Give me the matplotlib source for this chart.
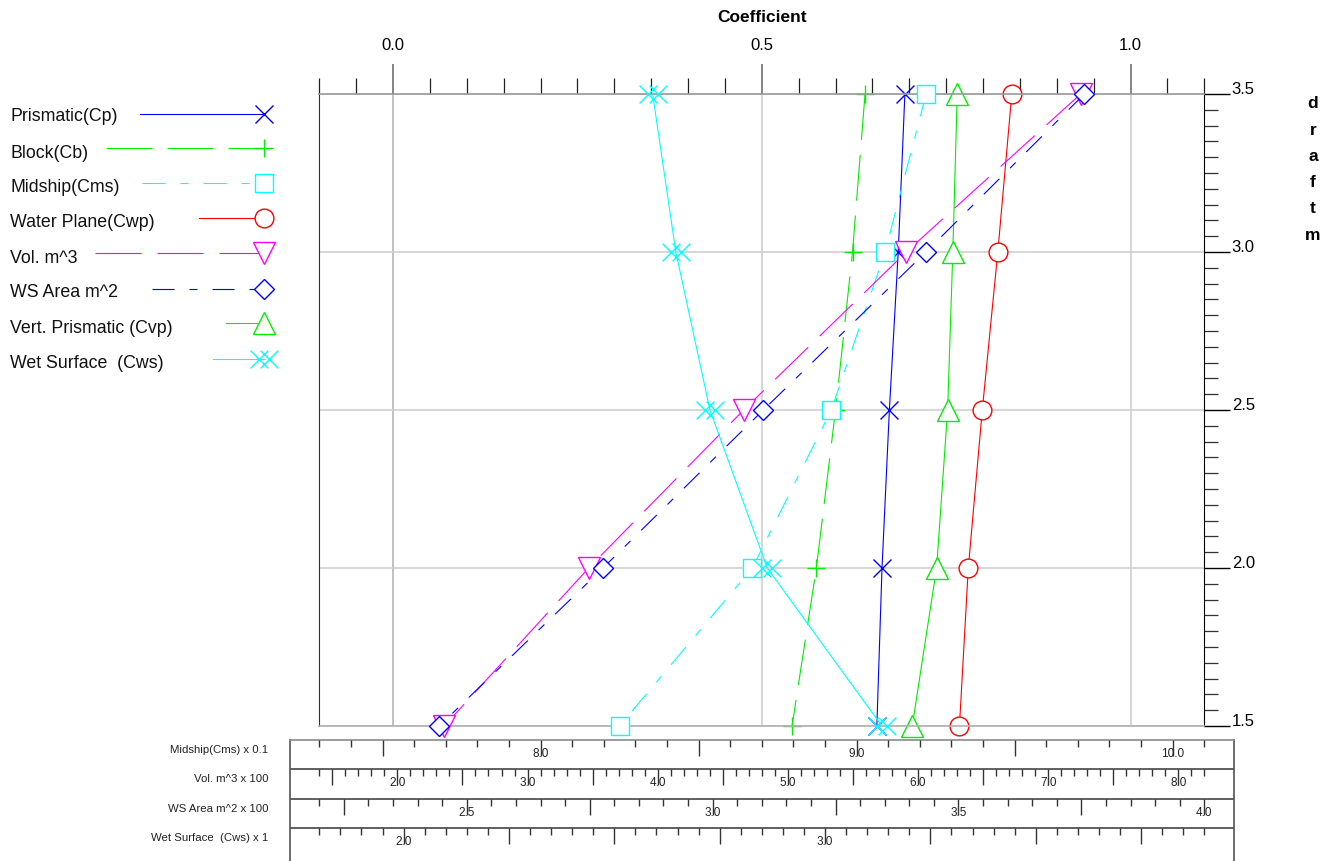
import numpy as np
import matplotlib
matplotlib.use('Agg')
import matplotlib.pyplot as plt
from matplotlib.path import Path
from matplotlib.ticker import MultipleLocator, FuncFormatter

plt.rcParams['font.family'] = ['Liberation Sans', 'DejaVu Sans']

# ---------------- data ----------------
draft = [3.5, 3.0, 2.5, 2.0, 1.5]
cp = [0.694, 0.685, 0.673, 0.663, 0.656]          # Prismatic
cb = [0.640, 0.623, 0.600, 0.574, 0.541]          # Block
cms = [0.922, 0.909, 0.892, 0.867, 0.825]         # Midship (own scale)
cwp = [0.839, 0.820, 0.799, 0.780, 0.768]         # Water plane
vol = [725, 591, 466, 347, 236]                   # Vol. m^3 (own scale)
ws_area = [375.6, 343.4, 310.3, 277.7, 244.4]     # WS Area m^2 (own scale)
cvp = [0.765, 0.759, 0.752, 0.737, 0.704]         # Vert. prismatic
cws = [2.591, 2.646, 2.727, 2.863, 3.135]         # Wet surface (own scale)

coef_ticks = [0.0, 0.5, 1.0]
draft_ticks = [1.5, 2.0, 2.5, 3.0, 3.5]

# ---------------- layout helpers ----------------
W, H = 1337, 861
def fx(p):
    return p / W
def fy(p):
    return 1 - p / H

PX = 0.72  # points per pixel at dpi 100

fig = plt.figure(figsize=(W / 100, H / 100), dpi=100)

L, R, T, B = 319.3, 1204.3, 94, 726
ax = fig.add_axes([fx(L), fy(B), (R - L) / W, (B - T) / H])
ax.set_xlim(-0.1, 1.1)
ax.set_ylim(1.5, 3.5)
ax.set_axisbelow(True)

# twin axes with own scales
def twin(lo, hi):
    t = ax.twiny()
    t.set_xlim(lo, hi)
    t.set_ylim(1.5, 3.5)
    t.axis('off')
    return t

ax_cms = twin(0.73, 1.01)
ax_vol = twin(140, 820)
ax_ws = twin(220, 400)
ax_cws = twin(1.8, 3.9)

ax.xaxis.tick_top()
ax.xaxis.set_label_position('top')
ax.set_xticks(coef_ticks)
ax.set_xticklabels([f'{v:.1f}' for v in coef_ticks])
ax.xaxis.set_minor_locator(MultipleLocator(0.05))
ax.tick_params(axis='x', which='major', direction='out', length=30 * PX, width=1.2,
               color='#707070', pad=11 * PX, labelsize=12)
ax.tick_params(axis='x', which='minor', direction='out', length=16 * PX, width=0.9,
               color='#202020')

ax.yaxis.tick_right()
ax.set_yticks(draft_ticks)
ax.set_yticklabels([f'{v:.1f}' for v in draft_ticks])
ax.yaxis.set_minor_locator(MultipleLocator(0.05))
ax.tick_params(axis='y', which='major', direction='out', length=26 * PX, width=1.0,
               color='black', pad=1, labelsize=12)
ax.tick_params(axis='y', which='minor', direction='out', length=14 * PX, width=0.9,
               color='#303030')
for lab in ax.get_yticklabels():
    lab.set_va('baseline')

ax.grid(True, which='major', color='#cfcfcf', linewidth=1.2)
ax.axvline(0.0, color='#707070', linewidth=1.2, zorder=0.5)

ax.spines['top'].set_color('#9a9a9a')
ax.spines['top'].set_linewidth(1.2)
ax.spines['bottom'].set_color('#b0b0b0')
ax.spines['bottom'].set_linewidth(1.2)
ax.spines['left'].set_color('#303030')
ax.spines['right'].set_color('black')

LW = 0.8
def dash(*px):
    return (0, tuple(p * PX / LW for p in px))

xx = Path([(-0.78, -0.5), (0.22, 0.5), (-0.78, 0.5), (0.22, -0.5),
           (-0.22, -0.5), (0.78, 0.5), (-0.22, 0.5), (0.78, -0.5)],
          [Path.MOVETO, Path.LINETO] * 4)

BLUE, GREEN, CYAN, RED, MAG = '#0000ff', '#00ee00', '#00ffff', '#ff0000', '#ff00ff'

series = [
    # name, axes, values, color, linestyle, marker, markersize
    ('Prismatic(Cp)', ax, cp, BLUE, '-', 'x', 12.5),
    ('Block(Cb)', ax, cb, GREEN, dash(46, 15), '+', 12.7),
    ('Midship(Cms)', ax_cms, cms, CYAN, dash(23, 15, 8, 15), 's', 13.0),
    ('Water Plane(Cwp)', ax, cwp, RED, '-', 'o', 13.5),
    ('Vol. m^3', ax_vol, vol, MAG, dash(46, 16), 'v', 15.5),
    ('WS Area m^2', ax_ws, ws_area, BLUE, dash(22, 15, 8, 15), 'D', 9.7),
    ('Vert. Prismatic (Cvp)', ax, cvp, GREEN, '-', '^', 15.5),
    ('Wet Surface  (Cws)', ax_cws, cws, CYAN, '-', xx, 20.0),
]

for name, a, vals, col, ls, mk, ms in series:
    a.plot(vals, draft, color=col, linestyle=ls, linewidth=LW, marker=mk,
           markersize=ms, markeredgecolor=col, markerfacecolor='white',
           markeredgewidth=1.0, clip_on=False)

# ---------------- legend (drawn manually) ----------------
lg = fig.add_axes([0, fy(385), fx(300), (385 - 90) / H])
lg.set_xlim(0, 300)
lg.set_ylim(385, 90)
lg.axis('off')
text_y = [116.7, 153.3, 187.7, 222.3, 258.3, 292.3, 328.3, 363.3]
line_y = [114, 148.3, 183.3, 217.7, 253.3, 289.3, 323.3, 359.3]
line_x0 = [140, 106, 142, 199, 95, 152, 226, 213]
mark_x = 264.3
for (name, a, vals, col, ls, mk, ms), ty, ly, x0 in zip(series, text_y, line_y, line_x0):
    lg.text(10, ty, name, fontsize=12.8, va='center', ha='left', color='#111111')
    lg.plot([x0, mark_x], [ly, ly], color=col, linestyle=ls, linewidth=LW)
    lg.plot([mark_x], [ly], color=col, linestyle='none', marker=mk, markersize=ms,
            markeredgecolor=col, markerfacecolor='white', markeredgewidth=1.0,
            clip_on=False)

# ---------------- titles ----------------
fig.text(fx(762), fy(17), 'Coefficient', fontsize=12.5, fontweight='bold',
         ha='center', va='center')
for i, ch in enumerate('draftm'):
    fig.text(fx(1313), fy(104 + i * 26.2), ch, fontsize=12.5, fontweight='bold',
             ha='center', va='center')

# ---------------- bottom rulers ----------------
ruler_y = [740, 769.3, 798.7, 828.3]
frame = fig.add_axes([fx(290), 0, (1234 - 290) / W, fy(740)])
frame.set_xlim(0, 1)
frame.set_ylim(861, 740)
frame.patch.set_visible(False)
frame.set_xticks([])
frame.set_yticks([])
frame.spines['bottom'].set_visible(False)
for s in ('left', 'right'):
    frame.spines[s].set_color('#555555')
    frame.spines[s].set_linewidth(1.2)
frame.spines['top'].set_color('#8a8a8a')
frame.spines['top'].set_linewidth(1.2)
for yy in ruler_y[1:]:
    frame.axhline(yy, color='#444444', linewidth=1.2)

rulers = [
    # label, lo, hi, minor, major, label step
    ('Midship(Cms) x 0.1', 7.3, 10.1, 0.1, 0.5, 1.0),
    ('Vol. m^3 x 100', 1.4, 8.2, 0.1, 0.5, 1.0),
    ('WS Area m^2 x 100', 2.2, 4.0, 0.05, 0.25, 0.5),
    ('Wet Surface  (Cws) x 1', 1.8, 3.9, 0.05, 0.25, 1.0),
]

for (lab, lo, hi, mn, mj, ls_), yy in zip(rulers, ruler_y):
    ra = fig.add_axes([fx(L), fy(yy), (R - L) / W, 0.0005])
    ra.set_xlim(lo, hi)
    ra.patch.set_visible(False)
    for s in ra.spines.values():
        s.set_visible(False)
    ra.set_yticks([])
    ra.xaxis.set_major_locator(MultipleLocator(mj))
    ra.xaxis.set_minor_locator(MultipleLocator(mn))
    def fmt(v, pos, step=ls_):
        r = v / step
        return f'{v:.1f}' if abs(r - round(r)) < 1e-6 else ''
    ra.xaxis.set_major_formatter(FuncFormatter(fmt))
    ra.tick_params(axis='x', which='major', direction='out', length=16 * PX,
                   width=1.0, color='#333333', labelsize=8.5, labelcolor='#222222',
                   pad=-8 * PX)
    ra.tick_params(axis='x', which='minor', direction='out', length=7 * PX,
                   width=1.0, color='#333333')
    fig.text(fx(268), fy(yy + 10), lab, fontsize=8.2, ha='right', va='center',
             color='#222222')

fig.savefig('out.png', dpi=100)
